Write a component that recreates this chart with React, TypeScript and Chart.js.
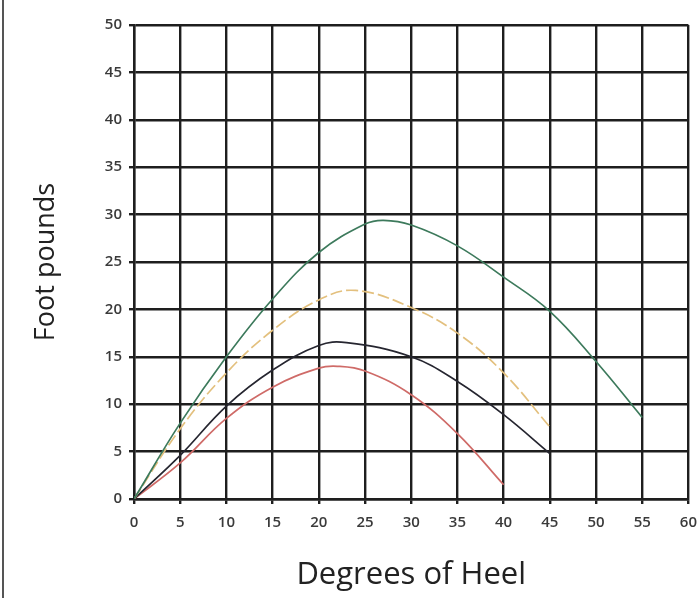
import React, { useEffect, useRef } from "react";
import { Chart, registerables } from "chart.js";

Chart.register(...registerables);

// Degrees of heel (x) and foot pounds (y) for each curve
const greenX = [0, 5, 10, 15, 20, 25, 27, 30, 35, 40, 45, 50, 55];
const greenY = [0, 8, 15, 21.1, 26.0, 29, 29.4, 28.9, 26.7, 23.4, 19.8, 14.5, 8.6];

const yellowX = [0, 5, 10, 15, 20, 24, 30, 35, 40, 45];
const yellowY = [0, 7.4, 13.3, 17.8, 21, 22, 20.2, 17.5, 13.3, 7.6];

const blackX = [0, 5, 10, 15, 20, 23, 30, 35, 40, 45];
const blackY = [0, 4.6, 9.8, 13.6, 16.2, 16.5, 15.0, 12.4, 8.9, 4.8];

const redX = [0, 5, 10, 15, 20, 22, 25, 30, 35, 40];
const redY = [0, 3.8, 8.5, 11.8, 13.8, 14.0, 13.5, 11.0, 6.9, 1.5];

const xTicks = [0, 5, 10, 15, 20, 25, 30, 35, 40, 45, 50, 55, 60];
const yTicks = [0, 5, 10, 15, 20, 25, 30, 35, 40, 45, 50];

const xTitle = "Degrees of Heel";
const yTitle = "Foot pounds";

const pts = (xs: number[], ys: number[]) => xs.map((x, i) => ({ x, y: ys[i] }));

export default function App() {
  const ref = useRef<HTMLCanvasElement | null>(null);

  useEffect(() => {
    if (!ref.current) return;
    const font = "'Open Sans', 'Noto Sans', sans-serif";
    const common = {
      pointRadius: 0,
      fill: false,
      tension: 0.4,
      borderWidth: 1.7,
    };
    const chart = new Chart(ref.current, {
      type: "line",
      data: {
        datasets: [
          { ...common, label: "green", data: pts(greenX, greenY), borderColor: "#3d7a5c" },
          {
            ...common,
            label: "yellow",
            data: pts(yellowX, yellowY),
            borderColor: "#e3c07e",
            borderDash: [12, 4],
          },
          { ...common, label: "black", data: pts(blackX, blackY), borderColor: "#262630" },
          { ...common, label: "red", data: pts(redX, redY), borderColor: "#cf6b68" },
        ],
      },
      options: {
        responsive: false,
        animation: false,
        layout: { padding: { top: 25, right: 0, bottom: 0, left: 0 } },
        plugins: { legend: { display: false }, tooltip: { enabled: false } },
        scales: {
          x: {
            type: "linear",
            min: 0,
            max: 60,
            afterBuildTicks: (s: any) => {
              s.ticks = xTicks.map((v) => ({ value: v }));
            },
            afterFit: (s: any) => {
              s.height = 99;
            },
            ticks: {
              color: "#3a3a3a",
              font: { family: font, size: 15, weight: 600 },
              padding: 10,
              maxRotation: 0,
            },
            grid: { color: "#1e1e1e", lineWidth: 2.4, tickLength: 5 },
            border: { color: "#1e1e1e", width: 2.4 },
            title: {
              display: true,
              text: xTitle,
              color: "#222",
              font: { family: font, size: 31 },
              padding: { top: 0, bottom: 4 },
            },
          },
          y: {
            type: "linear",
            min: 0,
            max: 50,
            afterBuildTicks: (s: any) => {
              s.ticks = yTicks.map((v) => ({ value: v }));
            },
            afterFit: (s: any) => {
              s.width = 134;
            },
            ticks: {
              color: "#3a3a3a",
              font: { family: font, size: 15, weight: 600 },
              padding: 7,
            },
            grid: { color: "#1e1e1e", lineWidth: 2.4, tickLength: 5 },
            border: { color: "#1e1e1e", width: 2.4 },
            title: {
              display: true,
              text: yTitle,
              color: "#222",
              font: { family: font, size: 27 },
              padding: { top: 30, bottom: 0 },
            },
          },
        },
      },
    });
    return () => chart.destroy();
  }, []);

  return (
    <div
      style={{
        position: "absolute",
        left: 0,
        top: 0,
        width: 699,
        height: 598,
        background: "#fff",
        overflow: "hidden",
      }}
    >
      <div
        style={{
          position: "absolute",
          left: 2,
          top: 0,
          width: 2,
          height: 598,
          background: "#555",
          zIndex: 1,
        }}
      />
      <canvas ref={ref} width={707} height={598} style={{ display: "block" }} />
    </div>
  );
}
